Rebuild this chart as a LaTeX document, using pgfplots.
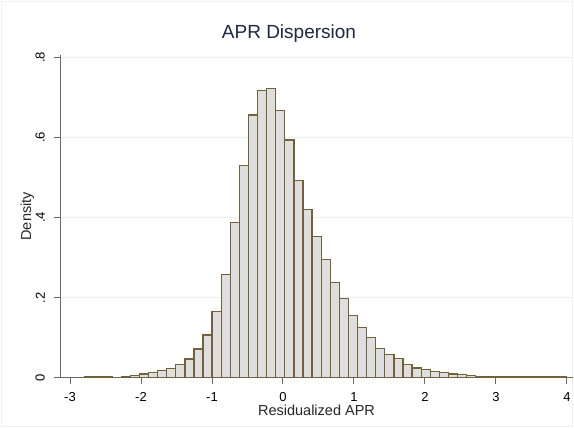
\documentclass[border=0pt]{standalone}
\usepackage{pgfplots}
\pgfplotsset{compat=1.18}
\usepackage{fontspec}
\setmainfont{Liberation Sans}
\definecolor{baredge}{RGB}{115,97,58}
\definecolor{barfill}{RGB}{222,222,222}
\definecolor{gridc}{RGB}{232,241,241}
\definecolor{axc}{RGB}{105,105,105}
\definecolor{titlec}{RGB}{30,40,70}
\begin{document}
\begin{tikzpicture}
\useasboundingbox (0,0) rectangle (574bp,428bp);
\fill[white] (0,0) rectangle (574bp,428bp);
\draw[draw=gray!12, line width=0.8bp] (1.5bp,1.5bp) rectangle (572.5bp,426.5bp);
\begin{axis}[
  at={(60bp,50.3bp)}, anchor=south west,
  scale only axis, width=513bp, height=322.7bp,
  xmin=-3.141, xmax=4.085, ymin=0, ymax=0.806,
  axis x line*=bottom, axis y line*=left,
  axis line style={-, draw=axc, line width=1bp},
  xtick pos=bottom, ytick pos=left,
  tick align=outside, major tick length=6bp,
  tick style={draw=axc, line width=1bp},
  xtick={-3,-2,-1,0,1,2,3,4}, xticklabels={-3,-2,-1,0,1,2,3,4},
  ytick={0,0.2,0.4,0.6,0.8}, yticklabels={0,.2,.4,.6,.8},
  xticklabel style={font=\fontsize{13bp}{13bp}\selectfont, anchor=north, inner sep=0pt},
  yticklabel style={font=\fontsize{13bp}{13bp}\selectfont, rotate=90, anchor=south, inner sep=0pt},
  xticklabel shift=9bp, yticklabel shift=9bp,
  ymajorgrids, major grid style={draw=gridc, line width=0.9bp},
  title={APR Dispersion},
  title style={at={(axis description cs:0.4464,1.0319)}, anchor=base, font=\fontsize{19bp}{19bp}\selectfont, text=titlec},
  xlabel={Residualized APR}, ylabel={Density},
  every axis x label/.style={at={(axis description cs:0.5,-0.1178)}, anchor=base, font=\fontsize{14.5bp}{14.5bp}\selectfont, text=black!85},
  every axis y label/.style={at={(axis description cs:-0.0565,0.5)}, anchor=base, rotate=90, font=\fontsize{14.5bp}{14.5bp}\selectfont, text=black!85},
  ybar, bar width=0.128, bar shift=0pt,
]
\addplot[ybar, bar width=0.128, bar shift=0pt, draw=baredge, fill=barfill, line width=1.3bp] coordinates {
(-2.726,0.002) (-2.598,0.002) (-2.470,0.002)
(-2.214,0.003) (-2.086,0.0055) (-1.958,0.0092) (-1.830,0.0138)
(-1.702,0.0172) (-1.574,0.0235) (-1.446,0.0338) (-1.318,0.0465)
(-1.190,0.0718) (-1.062,0.1065) (-0.934,0.165) (-0.806,0.2585)
(-0.678,0.3885) (-0.550,0.530) (-0.422,0.656) (-0.294,0.7175)
(-0.166,0.7228) (-0.038,0.667) (0.090,0.594) (0.218,0.4925)
(0.346,0.420) (0.474,0.3525) (0.602,0.296) (0.730,0.2375)
(0.858,0.197) (0.986,0.156) (1.114,0.125) (1.242,0.101)
(1.370,0.0738) (1.498,0.0585) (1.626,0.0475) (1.754,0.0332)
(1.882,0.0245) (2.010,0.0212) (2.138,0.016) (2.266,0.013)
(2.394,0.0095) (2.522,0.0075) (2.650,0.0055) (2.778,0.0035)
(2.906,0.003) (3.034,0.0025) (3.162,0.0022) (3.290,0.002)
(3.418,0.002) (3.546,0.002) (3.674,0.002) (3.802,0.002)
(3.930,0.002)
};
\end{axis}
\end{tikzpicture}
\end{document}
